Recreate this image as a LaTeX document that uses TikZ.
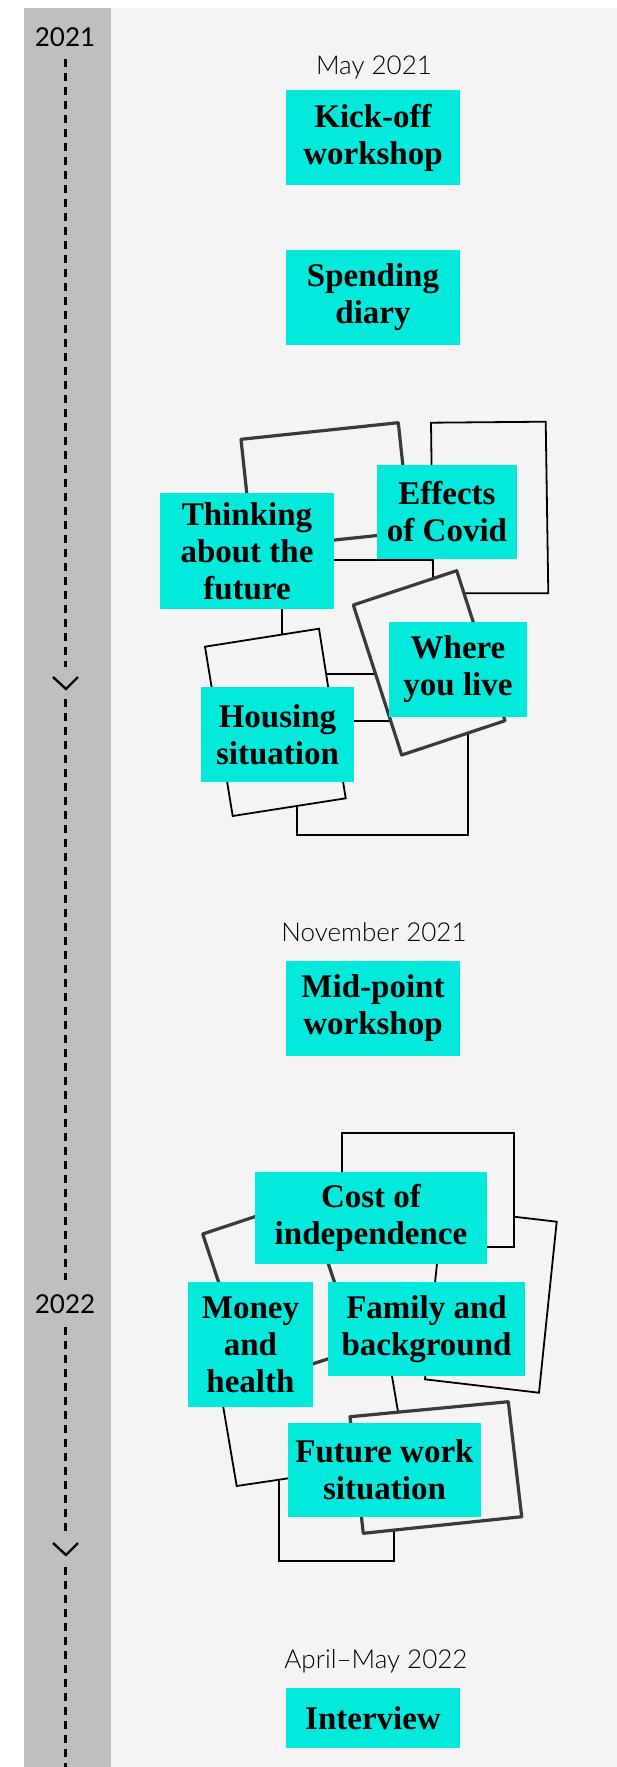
\documentclass[tikz,border=0pt]{standalone}
\usepackage{fontspec}
\setmainfont{Liberation Serif}
\newfontfamily\datefont{Lato Light}
\newfontfamily\yearfont{Lato}
\definecolor{cyanbox}{RGB}{3,234,220}
\definecolor{barcol}{RGB}{191,191,191}
\definecolor{bgcol}{RGB}{244,244,244}
\definecolor{roughcol}{RGB}{58,58,58}
\tikzset{
  box/.style={rectangle, fill=cyanbox, inner sep=0pt, align=center,
    font=\fontsize{33}{37}\selectfont\bfseries},
  datelab/.style={font=\datefont\fontsize{26}{30}\selectfont, anchor=base, inner sep=0pt},
  yearlab/.style={font=\yearfont\fontsize{26}{30}\selectfont, anchor=base, inner sep=0pt},
  tline/.style={dash pattern=on 8pt off 6pt, line width=2.8pt},
  chev/.style={line width=2.4pt},
  thinframe/.style={draw=black, line width=1.8pt, fill=bgcol},
  roughframe/.style={draw=roughcol, line width=3.2pt, fill=bgcol, line join=round},
}
\begin{document}
\begin{tikzpicture}[x=1pt,y=-1pt]
\useasboundingbox (0,0) rectangle (617,1767);
\fill[white] (0,0) rectangle (617,1767);
\fill[barcol] (23.5,8) rectangle (111,1767);
\fill[bgcol] (111,8) rectangle (617,1767);

% timeline
\node[yearlab] (y2021) at (65,46.7) {2021};
\node[yearlab] (y2022) at (65,1313) {2022};
\coordinate (d0) at (65.7,59);
\coordinate (d1) at (65.7,667);
\coordinate (d2) at (65.7,699);
\coordinate (d3) at (65.7,1280);
\coordinate (d4) at (65.7,1327);
\coordinate (d5) at (65.7,1533);
\coordinate (d6) at (65.7,1567);
\coordinate (d7) at (65.7,1767);
\draw[tline] (d0) -- (d1);
\draw[tline] (d2) -- (d3);
\draw[tline] (d4) -- (d5);
\draw[tline] (d6) -- (d7);
\coordinate (c1a) at (53,677);
\coordinate (c1b) at (66,689);
\coordinate (c1c) at (78,677);
\draw[chev] (c1a) -- (c1b) -- (c1c);
\coordinate (c2a) at (53,1543);
\coordinate (c2b) at (66,1555);
\coordinate (c2c) at (78,1543);
\draw[chev] (c2a) -- (c2b) -- (c2c);

% dates
\node[datelab] (may) at (374,74) {May 2021};
\node[datelab] (nov) at (374,941.7) {November 2021};
\node[datelab] (apr) at (376,1668) {April–May 2022};

% single boxes
\node[box, minimum width=174pt, minimum height=95pt] (kick) at (373,137.5) {Kick-off\\workshop};
\node[box, minimum width=174pt, minimum height=95pt] (diary) at (373,297.5) {Spending\\diary};
\node[box, minimum width=174pt, minimum height=95pt] (mid) at (373,1008.5) {Mid-point\\workshop};
\node[box, minimum width=174pt, minimum height=60pt] (interview) at (373,1718) {Interview};

% cluster 1 frames
\draw[thinframe] (281.7,560) rectangle (433.3,674);
\draw[thinframe] (296.7,720.7) rectangle (468.3,835);
\draw[thinframe] (431,422.7) -- (545.7,421.7) -- (548.3,593.3) -- (433.3,593.3) -- cycle;
\draw[roughframe] (241,439.3) -- (398.3,422.7) -- (410,532) -- (252.7,548.7) -- cycle;
\draw[thinframe] (205,646.7) -- (319,628.7) -- (345.7,798.3) -- (232.7,816) -- cycle;
\draw[roughframe] (353.3,605) -- (456.7,570.7) -- (505,720.7) -- (401.7,755) -- cycle;

% cluster 1 boxes
\node[box, minimum width=174pt, minimum height=116pt] (think) at (247,551) {Thinking\\about the\\future};
\node[box, minimum width=140pt, minimum height=94pt] (covid) at (447,512) {Effects\\of Covid};
\node[box, minimum width=138pt, minimum height=95pt] (where) at (458,669.5) {Where\\you live};
\node[box, minimum width=153pt, minimum height=95pt] (housing) at (277.5,734.5) {Housing\\situation};

% cluster 2 frames
\draw[thinframe] (279.3,1440) rectangle (394,1560.7);
\draw[thinframe] (214.3,1354.3) -- (384,1329) -- (406.3,1460.7) -- (236.7,1486) -- cycle;
\draw[roughframe] (202.7,1234) -- (307,1199.3) -- (356.7,1349.3) -- (252.3,1384) -- cycle;
\draw[roughframe] (350,1416.7) -- (508.3,1401.7) -- (521.7,1516.7) -- (363.3,1533.3) -- cycle;
\draw[thinframe] (442.7,1208.3) -- (556.7,1221.7) -- (539,1392.7) -- (425,1379.3) -- cycle;
\draw[thinframe] (342.3,1132.7) rectangle (514.3,1246.7);

% cluster 2 boxes
\node[box, minimum width=232pt, minimum height=92pt] (cost) at (371,1218) {Cost of\\independence};
\node[box, minimum width=125pt, minimum height=125pt] (money) at (250.5,1344.5) {Money\\and\\health};
\node[box, minimum width=197pt, minimum height=94pt] (family) at (426.5,1329) {Family and\\background};
\node[box, minimum width=193pt, minimum height=94pt] (future) at (384.5,1470) {Future work\\situation};
\end{tikzpicture}
\end{document}
